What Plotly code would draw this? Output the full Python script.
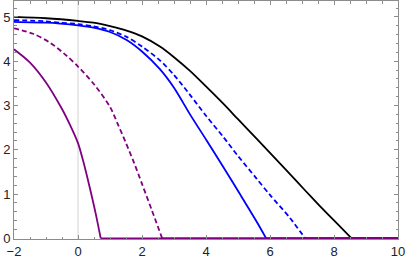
import plotly.graph_objects as go

# Read-off data (x, y) for each curve
black_x = [-2, -1, 0, 0.48, 1.0, 1.52, 2.0, 2.56, 3.0, 3.5, 4.0, 4.54, 5.0, 5.58, 6.0, 6.625, 7.1, 7.56, 8.1, 8.55, 10]
black_y = [5.0, 4.97, 4.91, 4.87, 4.79, 4.69, 4.56, 4.33, 4.09, 3.78, 3.43, 3.04, 2.69, 2.25, 1.93, 1.45, 1.08, 0.73, 0.33, 0.0, 0.0]

bdash_x = [-2, -1, -0.56, 0, 0.48, 1.0, 1.52, 2.0, 2.56, 3.0, 3.5, 4.0, 4.54, 5.0, 5.58, 6.0, 6.625, 7.1, 10]
bdash_y = [4.93, 4.90, 4.87, 4.84, 4.79, 4.70, 4.55, 4.33, 4.02, 3.69, 3.24, 2.77, 2.29, 1.86, 1.35, 0.98, 0.46, 0.0, 0.0]

blue_x = [-2, -1, -0.56, 0, 0.48, 1.0, 1.52, 2.0, 2.56, 3.0, 3.5, 4.02, 4.54, 5.06, 5.58, 5.88, 10]
blue_y = [4.89, 4.87, 4.85, 4.81, 4.76, 4.66, 4.48, 4.22, 3.82, 3.40, 2.80, 2.21, 1.61, 1.0, 0.38, 0.0, 0.0]

pdash_x = [-2, -1.4, -0.875, -0.35, 0, 0.5, 1.0, 1.25, 1.5, 1.75, 2.0, 2.3, 2.63, 10]
pdash_y = [4.74, 4.62, 4.42, 4.12, 3.88, 3.48, 2.97, 2.57, 2.15, 1.71, 1.23, 0.65, 0.0, 0.0]

purple_x = [-2, -1.5, -1.0, -0.5, -0.25, 0, 0.15, 0.35, 0.55, 0.71, 10]
purple_y = [4.27, 3.97, 3.52, 2.92, 2.56, 2.15, 1.78, 1.20, 0.57, 0.0, 0.0]

x_ticks = [-2, 0, 2, 4, 6, 8, 10]
x_labels = ["\u22122", "0", "2", "4", "6", "8", "10"]
y_ticks = [0, 1, 2, 3, 4, 5]

fig = go.Figure()

def add(x, y, color, dash):
    # curved part (smooth) up to the zero crossing, then flat tail along zero
    fig.add_trace(go.Scatter(x=x[:-1], y=y[:-1], mode="lines", line_shape="spline",
                             line=dict(color=color, width=1.8, dash=dash, smoothing=0.8),
                             showlegend=False, hoverinfo="skip"))
    fig.add_trace(go.Scatter(x=x[-2:], y=y[-2:], mode="lines",
                             line=dict(color=color, width=1.8),
                             showlegend=False, hoverinfo="skip"))

add(black_x, black_y, "#000000", "solid")
add(bdash_x, bdash_y, "#0000ff", "5px,3px")
add(blue_x, blue_y, "#0000ff", "solid")
add(pdash_x, pdash_y, "#800080", "5px,3px")
add(purple_x, purple_y, "#800080", "solid")

# vertical axis line at x=0
fig.add_shape(type="line", x0=0, x1=0, y0=0, y1=1, xref="x", yref="paper",
              line=dict(color="#d3d3d3", width=1), layer="below")

frame = "#8c8c8c"
fig.update_layout(
    width=409, height=262,
    margin=dict(l=14, r=11, t=1, b=23),
    paper_bgcolor="white", plot_bgcolor="white",
    font=dict(family="Liberation Sans, Arial, sans-serif", size=13, color="#222222"),
    xaxis=dict(range=[-2, 10], tickvals=x_ticks, ticktext=x_labels, automargin=False,
               showgrid=False, zeroline=False, showline=True, linecolor=frame, linewidth=1,
               mirror="ticks", ticks="inside", ticklen=4, tickcolor=frame, tickwidth=1,
               minor=dict(dtick=0.5, ticks="inside", ticklen=2.5, tickcolor=frame, tickwidth=1, showgrid=False)),
    yaxis=dict(range=[-0.015, 5.36], tickvals=y_ticks, automargin=False,
               showgrid=False, zeroline=False, showline=True, linecolor=frame, linewidth=1,
               mirror="ticks", ticks="inside", ticklen=4, tickcolor=frame, tickwidth=1,
               minor=dict(dtick=0.2, ticks="inside", ticklen=2.5, tickcolor=frame, tickwidth=1, showgrid=False)),
)

fig.write_html("out.html", config={"displayModeBar": False, "staticPlot": True},
               post_script="document.body.style.margin='0';document.body.style.overflow='hidden';")
